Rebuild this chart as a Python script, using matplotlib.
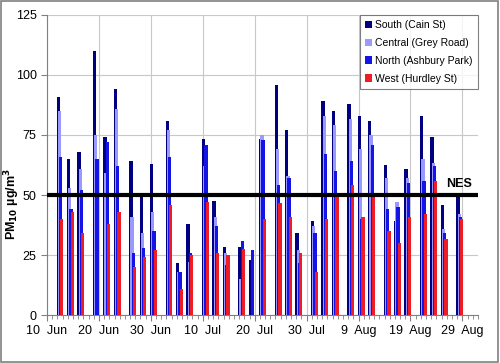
import numpy as np
import pandas as pd
import matplotlib
matplotlib.use("Agg")
import matplotlib.pyplot as plt
import matplotlib.dates as mdates
from matplotlib.patches import Rectangle

# sample dates (every 2-2-3 days)
dates = ['2007-06-12', '2007-06-14', '2007-06-16', '2007-06-19', '2007-06-21', '2007-06-23',
         '2007-06-26', '2007-06-28', '2007-06-30', '2007-07-03', '2007-07-05', '2007-07-07',
         '2007-07-10', '2007-07-12', '2007-07-14', '2007-07-17', '2007-07-19', '2007-07-21',
         '2007-07-24', '2007-07-26', '2007-07-28', '2007-07-31', '2007-08-02', '2007-08-04',
         '2007-08-07', '2007-08-09', '2007-08-11', '2007-08-14', '2007-08-16', '2007-08-18',
         '2007-08-21', '2007-08-23', '2007-08-25', '2007-08-28']

south = [91, 65, 68, 110, 74, 94, 64, 51, 63, 81, 21.5, 38, 73.5, 47.5, 28.5, 28.5, 23, 73.5,
         96, 77, 34, 39, 89, 85, 88, 83, 81, 62.5, 39, 61, 83, 74, 46, 49]
central = [85, 53, 61, 75, 59, 86, 41, 34, 43, 77, 18, 22, 62, 41, 26, 15, np.nan, 75,
           69, 58, 27, 37, 83, 79, 81.5, 69, 75, 57, 47, 57, 65, 63.5, 36, 42]
north = [66, 44, 52, 65, 72, 62, 26, 28, 35, 66, 18, 26, 71, 37, 21, 31, 27, 73,
         54, 57, 21.5, 34, 67, 60, 64, 40, 71, 44, 45, 55, 56, 62, 34, 41]
west = [40, 43, 34, np.nan, 38, 43, 20, 24, 27, 46, 11, 25, 47, 26, 25, 27.5, np.nan, 40,
        46.5, 41, 26, 18, 40, 50, 54, 41, 50, 35, 30, 41, 42, 56, 31.5, 40]

series_names = ['South (Cain St)', 'Central (Grey Road)', 'North (Ashbury Park)', 'West (Hurdley St)']
colors = ['#000080', '#9999FF', '#1414E6', '#EE1C25']
nes = 50

axis_start = pd.Timestamp('2007-06-10')
axis_end = pd.Timestamp('2007-09-01')


def fmt_date(v, pos=None):
    d = mdates.num2date(v)
    return '%d  %s' % (d.day, d.strftime('%b'))


def main():
    plt.rcParams['font.family'] = ['Liberation Sans', 'DejaVu Sans']
    fig = plt.figure(figsize=(5, 3.63), dpi=100)
    ax = fig.add_axes([0.094, 0.132, 0.862, 0.827])

    x = mdates.date2num(pd.to_datetime(dates)) + 0.5
    w = 0.63
    step = 0.23
    for i, vals in enumerate([south, central, north, west]):
        ax.bar(x + (i - 1.5) * step, vals, width=w, color=colors[i],
               label=series_names[i], zorder=3 + i, linewidth=0)

    ax.axhline(nes, color='black', linewidth=3, zorder=10)
    ax.text(0.985, (nes + 2) / 125, 'NES', transform=ax.transAxes, ha='right', va='bottom',
            fontsize=9, fontweight='bold', zorder=11)

    ax.set_xlim(mdates.date2num(axis_start), mdates.date2num(axis_end))
    ax.set_ylim(0, 125)
    ax.set_yticks(np.arange(0, 126, 25))
    major = [mdates.date2num(axis_start + pd.Timedelta(days=10 * k)) for k in range(9)]
    ax.set_xticks(major)
    ax.xaxis.set_major_formatter(plt.FuncFormatter(fmt_date))
    ax.xaxis.set_minor_locator(mdates.DayLocator())

    ax.grid(True, color='#c8c8c8', linewidth=0.8, zorder=0)
    ax.set_axisbelow(True)
    for s in ['top', 'right']:
        ax.spines[s].set_visible(False)
    for s in ['left', 'bottom']:
        ax.spines[s].set_color('#808080')
    ax.tick_params(axis='both', labelsize=9, color='#808080', direction='out', length=4)
    ax.tick_params(axis='x', which='minor', color='#808080', length=3)
    ax.tick_params(axis='x', pad=3)

    ax.set_ylabel(r'PM$_{\mathbf{10}}$ µg/m$^{\mathbf{3}}$', fontsize=9, fontweight='bold',
                  va='center')
    ax.yaxis.set_label_coords(-0.08, 0.37)

    leg = ax.legend(loc='upper right', bbox_to_anchor=(1.0, 1.0), fontsize=7.5, frameon=True,
                    fancybox=False, edgecolor='#606060', handlelength=0.7, handleheight=0.7,
                    handletextpad=0.3, borderpad=0.5, labelspacing=0.75, borderaxespad=0.0)
    leg.get_frame().set_linewidth(0.8)
    leg.set_zorder(20)

    fig.patches.append(Rectangle((0.002, 0.004), 0.994, 0.992, transform=fig.transFigure,
                                 fill=False, edgecolor='#808080', linewidth=1.2))

    fig.savefig('out.png', dpi=100)


if __name__ == '__main__':
    main()
